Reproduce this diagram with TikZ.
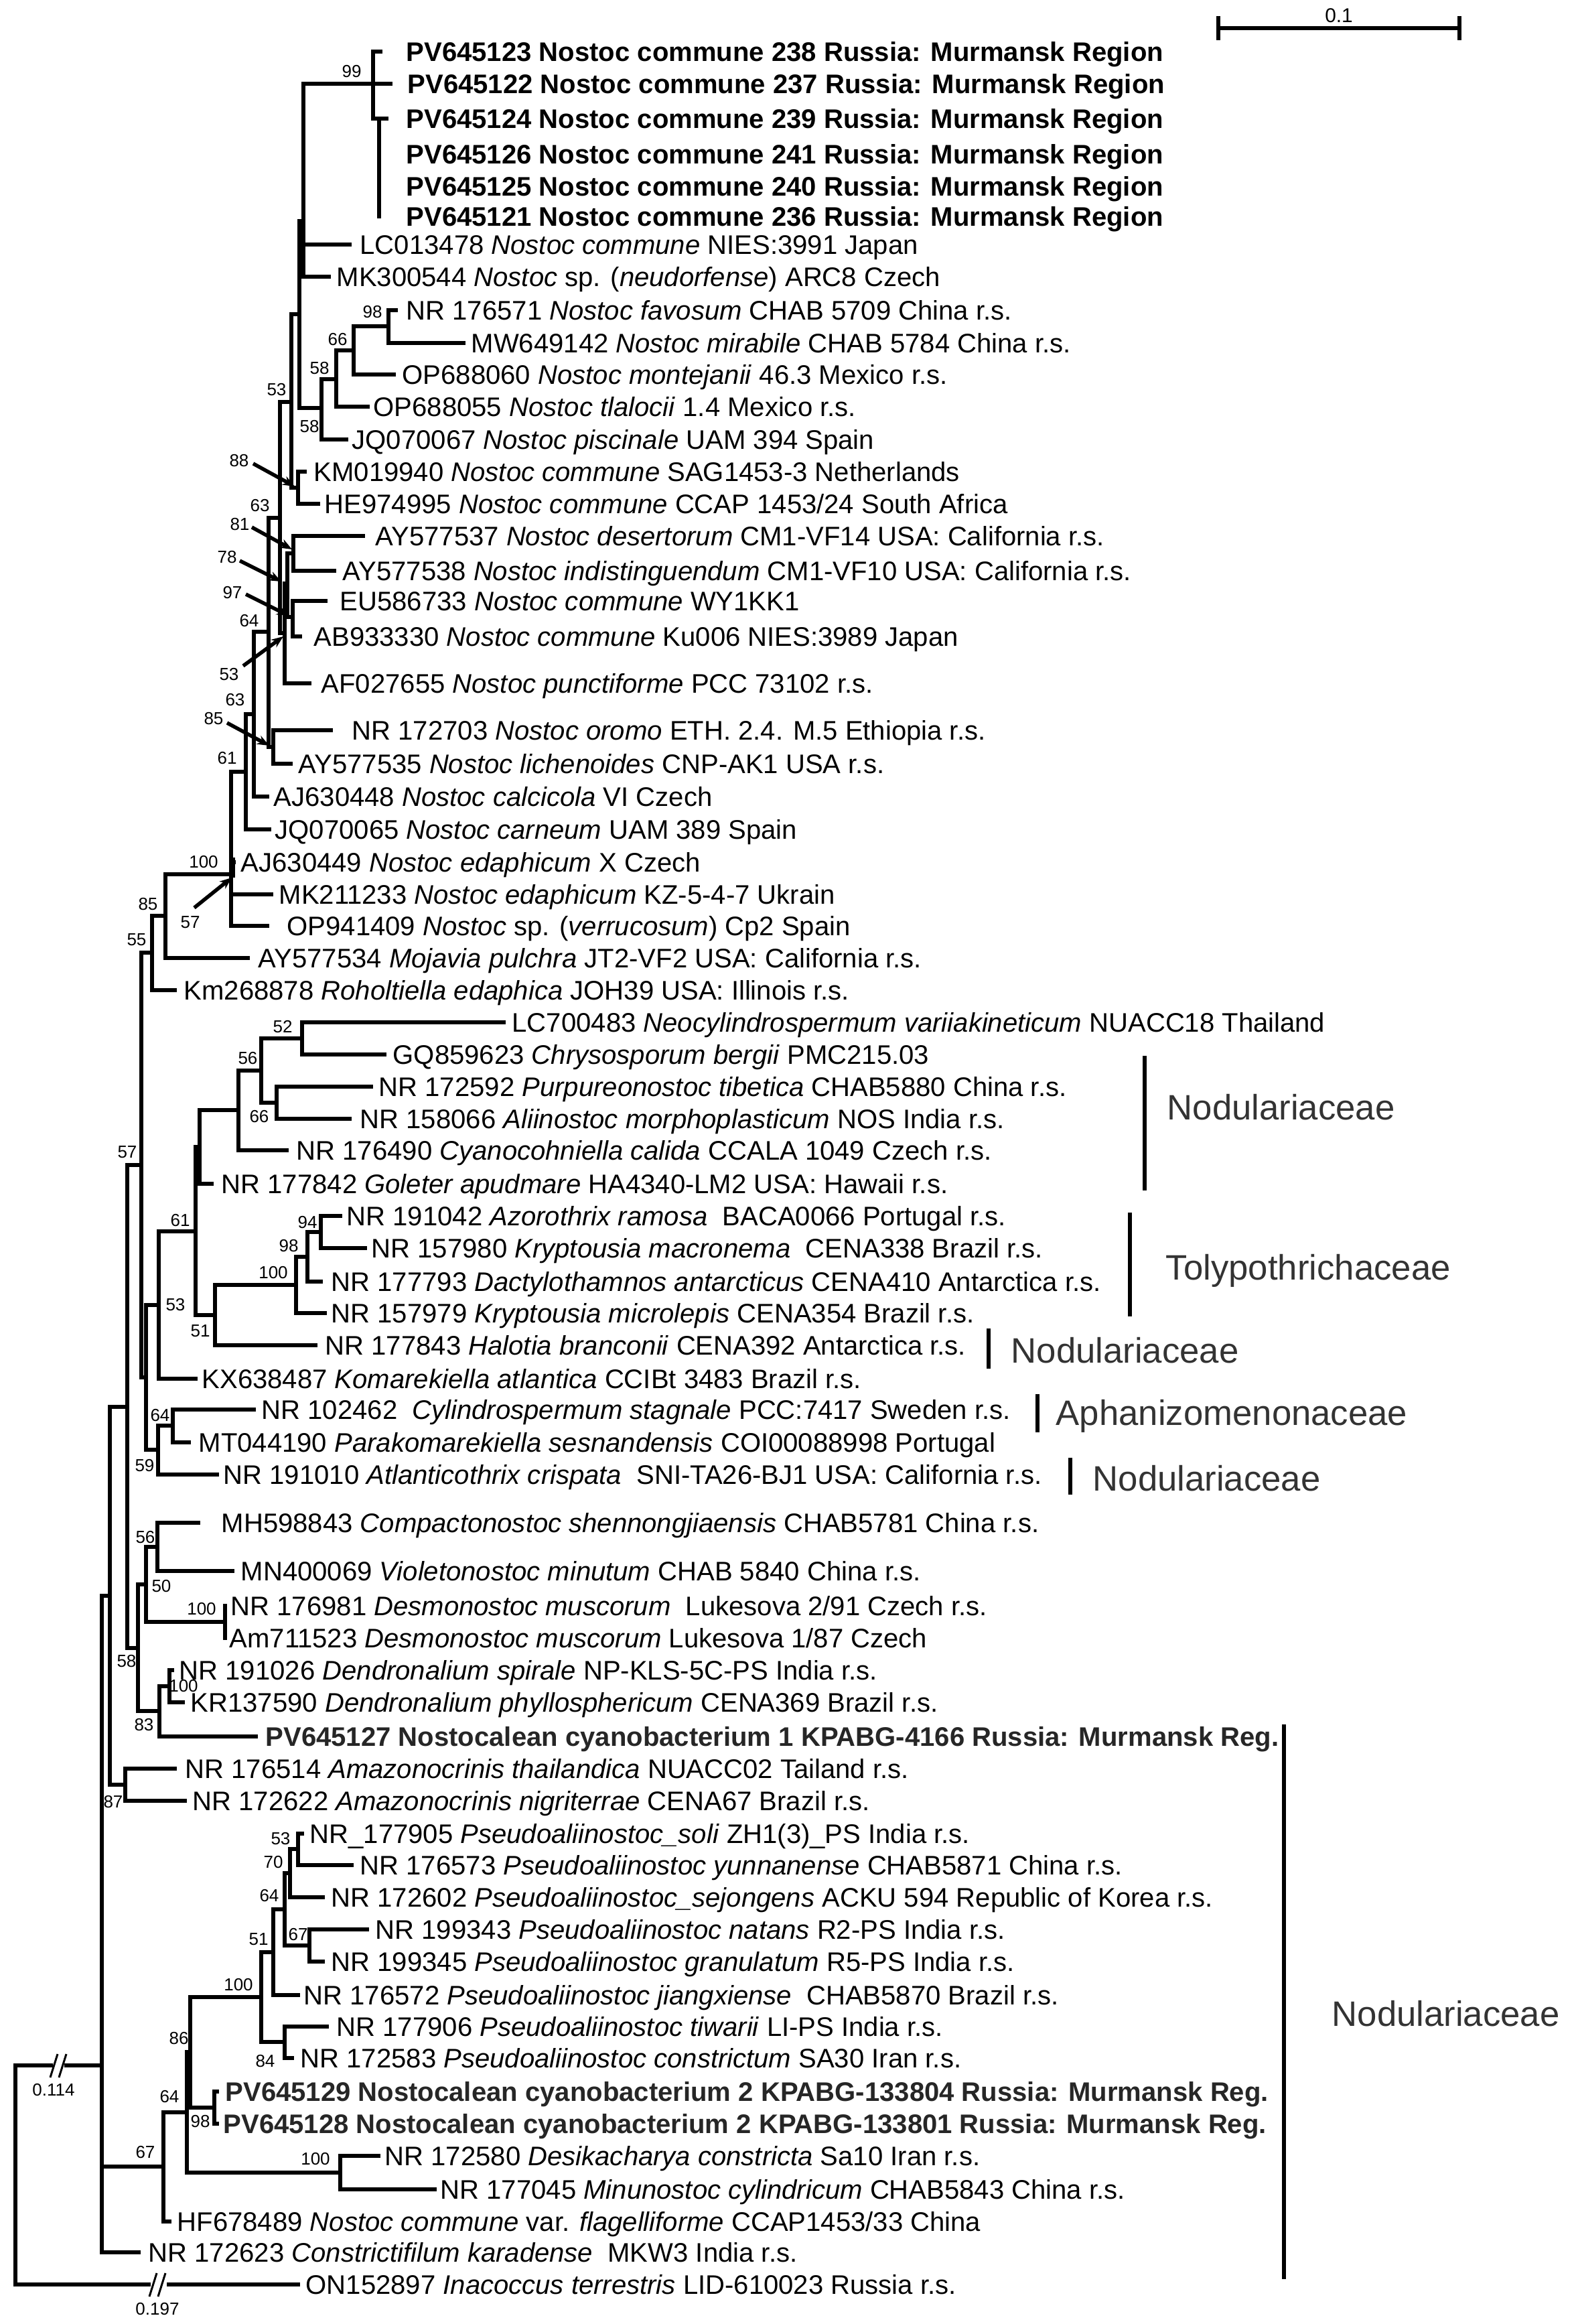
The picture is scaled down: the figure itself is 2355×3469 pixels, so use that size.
\documentclass[tikz,border=0pt]{standalone}
\usepackage{fontspec}
\setmainfont{Liberation Sans}
\usetikzlibrary{arrows.meta}
\newcommand\mkleaf[5]{\coordinate (#1) at (#3,#2); \node[lf] (#1t) at (#4,#2+14) {#5};}
\newcommand\mknode[3]{\coordinate (#1) at (#2,#3);}
\newcommand\ed[2]{\draw[br] (#1) |- (#2);}
\newcommand\bsl[4]{\node[bs] (#1) at (#2,#3) {#4};}
\newcommand\bsarr[8]{\node[bs] (#1) at (#3,#4) {#2}; \coordinate (#1s) at (#5,#6); \coordinate (#1e) at (#7,#8); \draw[arr] (#1s) -- (#1e);}
\begin{document}
\begin{tikzpicture}[x=0.1mm,y=-0.1mm,
 br/.style={line width=0.58mm, line cap=rect, line join=miter},
 lf/.style={anchor=base west, inner sep=0, font=\fontsize{11.4}{13}\selectfont},
 bs/.style={inner sep=0, font=\fontsize{7.4}{8}\selectfont},
 arr/.style={line width=0.55mm, -{Stealth[length=1.8mm,width=1.4mm]}},
 fam/.style={anchor=west, inner sep=0, font=\fontsize{15}{17}\selectfont, text=black!80},
 brk/.style={line width=0.65mm},
 sl/.style={line width=0.3mm}]
\fill[white] (0,0) rectangle (2355,3469);
\useasboundingbox (0,0) rectangle (2355,3469);
% ---------- leaves ----------
\mkleaf{l1}{77}{568}{606}{\textbf{PV645123 Nostoc commune 238 Russia: Murmansk Region}}
\mkleaf{l2}{125}{583}{608}{\textbf{PV645122 Nostoc commune 237 Russia: Murmansk Region}}
\mkleaf{l3}{177}{577}{606}{\textbf{PV645124 Nostoc commune 239 Russia: Murmansk Region}}
\mkleaf{l4}{230}{566}{606}{\textbf{PV645126 Nostoc commune 241 Russia: Murmansk Region}}
\mkleaf{l5}{278}{566}{606}{\textbf{PV645125 Nostoc commune 240 Russia: Murmansk Region}}
\mkleaf{l6}{323}{566}{606}{\textbf{PV645121 Nostoc commune 236 Russia: Murmansk Region}}
\mkleaf{l7}{365}{522}{537}{LC013478 \textit{Nostoc commune} NIES:3991 Japan}
\mkleaf{l8}{413}{491}{502}{MK300544 \textit{Nostoc} sp. (\textit{neudorfense}) ARC8 Czech}
\mkleaf{l9}{463}{591}{606}{NR 176571 \textit{Nostoc favosum} CHAB 5709 China r.s.}
\mkleaf{l10}{512}{692}{703}{MW649142 \textit{Nostoc mirabile} CHAB 5784 China r.s.}
\mkleaf{l11}{559}{588}{600}{OP688060 \textit{Nostoc montejanii} 46.3 Mexico r.s.}
\mkleaf{l12}{607}{549}{557}{OP688055 \textit{Nostoc tlalocii} 1.4 Mexico r.s.}
\mkleaf{l13}{656}{517}{525}{JQ070067 \textit{Nostoc piscinale} UAM 394 Spain}
\mkleaf{l14}{704}{455}{468}{KM019940 \textit{Nostoc commune} SAG1453-3 Netherlands}
\mkleaf{l15}{752}{475}{484}{HE974995 \textit{Nostoc commune} CCAP 1453/24 South Africa}
\mkleaf{l16}{800}{542}{560}{AY577537 \textit{Nostoc desertorum} CM1-VF14 USA: California r.s.}
\mkleaf{l17}{852}{499}{511}{AY577538 \textit{Nostoc indistinguendum} CM1-VF10 USA: California r.s.}
\mkleaf{l18}{897}{486}{507}{EU586733 \textit{Nostoc commune} WY1KK1}
\mkleaf{l19}{950}{448}{468}{AB933330 \textit{Nostoc commune} Ku006 NIES:3989 Japan}
\mkleaf{l20}{1020}{462}{479}{AF027655 \textit{Nostoc punctiforme} PCC 73102 r.s.}
\mkleaf{l21}{1090}{494}{525}{NR 172703 \textit{Nostoc oromo} ETH. 2.4. M.5 Ethiopia r.s.}
\mkleaf{l22}{1140}{434}{445}{AY577535 \textit{Nostoc lichenoides} CNP-AK1 USA r.s.}
\mkleaf{l23}{1189}{399}{408}{AJ630448 \textit{Nostoc calcicola} VI Czech}
\mkleaf{l24}{1238}{402}{410}{JQ070065 \textit{Nostoc carneum} UAM 389 Spain}
\mkleaf{l25}{1287}{349}{359}{AJ630449 \textit{Nostoc edaphicum} X Czech}
\mkleaf{l26}{1335}{405}{416}{MK211233 \textit{Nostoc edaphicum} KZ-5-4-7 Ukrain}
\mkleaf{l27}{1382}{399}{428}{OP941409 \textit{Nostoc} sp. (\textit{verrucosum}) Cp2 Spain}
\mkleaf{l28}{1430}{370}{385}{AY577534 \textit{Mojavia pulchra} JT2-VF2 USA: California r.s.}
\mkleaf{l29}{1478}{261}{274}{Km268878 \textit{Roholtiella edaphica} JOH39 USA: Illinois r.s.}
\mkleaf{l30}{1526}{752}{764}{LC700483 \textit{Neocylindrospermum variiakineticum} NUACC18 Thailand}
\mkleaf{l31}{1574}{574}{586}{GQ859623 \textit{Chrysosporum bergii} PMC215.03}
\mkleaf{l32}{1622}{554}{565}{NR 172592 \textit{Purpureonostoc tibetica} CHAB5880 China r.s.}
\mkleaf{l33}{1670}{522}{537}{NR 158066 \textit{Aliinostoc morphoplasticum} NOS India r.s.}
\mkleaf{l34}{1717}{428}{442}{NR 176490 \textit{Cyanocohniella calida} CCALA 1049 Czech r.s.}
\mkleaf{l35}{1767}{316}{330}{NR 177842 \textit{Goleter apudmare} HA4340-LM2 USA: Hawaii r.s.}
\mkleaf{l36}{1815}{508}{517}{NR 191042 \textit{Azorothrix ramosa}\ \ BACA0066 Portugal r.s.}
\mkleaf{l37}{1863}{545}{554}{NR 157980 \textit{Kryptousia macronema}\ \ CENA338 Brazil r.s.}
\mkleaf{l38}{1913}{479}{494}{NR 177793 \textit{Dactylothamnos antarcticus} CENA410 Antarctica r.s.}
\mkleaf{l39}{1960}{485}{494}{NR 157979 \textit{Kryptousia microlepis} CENA354 Brazil r.s.}
\mkleaf{l40}{2008}{471}{485}{NR 177843 \textit{Halotia branconii} CENA392 Antarctica r.s.}
\mkleaf{l41}{2058}{292}{301}{KX638487 \textit{Komarekiella atlantica} CCIBt 3483 Brazil r.s.}
\mkleaf{l42}{2104}{379}{390}{NR 102462\ \ \textit{Cylindrospermum stagnale} PCC:7417 Sweden r.s.}
\mkleaf{l43}{2153}{282}{296}{MT044190 \textit{Parakomarekiella sesnandensis} COI00088998 Portugal}
\mkleaf{l44}{2201}{324}{333}{NR 191010 \textit{Atlanticothrix crispata}\ \ SNI-TA26-BJ1 USA: California r.s.}
\mkleaf{l45}{2273}{296}{330}{MH598843 \textit{Compactonostoc shennongjiaensis} CHAB5781 China r.s.}
\mkleaf{l46}{2345}{347}{359}{MN400069 \textit{Violetonostoc minutum} CHAB 5840 China r.s.}
\mkleaf{l47}{2397}{336}{344}{NR 176981 \textit{Desmonostoc muscorum}\ \ Lukesova 2/91 Czech r.s.}
\mkleaf{l48}{2445}{336}{342}{Am711523 \textit{Desmonostoc muscorum} Lukesova 1/87 Czech}
\mkleaf{l49}{2493}{257}{267}{NR 191026 \textit{Dendronalium spirale} NP-KLS-5C-PS India r.s.}
\mkleaf{l50}{2541}{273}{284}{KR137590 \textit{Dendronalium phyllosphericum} CENA369 Brazil r.s.}
\mkleaf{l51}{2592}{382}{396}{\textbf{\color{black!85}PV645127 Nostocalean cyanobacterium 1 KPABG-4166 Russia: Murmansk Reg.}}
\mkleaf{l52}{2640}{261}{276}{NR 176514 \textit{Amazonocrinis thailandica} NUACC02 Tailand r.s.}
\mkleaf{l53}{2688}{276}{287}{NR 172622 \textit{Amazonocrinis nigriterrae} CENA67 Brazil r.s.}
\mkleaf{l54}{2737}{451}{462}{NR\_177905 \textit{Pseudoaliinostoc\_soli} ZH1(3)\_PS India r.s.}
\mkleaf{l55}{2784}{525}{537}{NR 176573 \textit{Pseudoaliinostoc yunnanense} CHAB5871 China r.s.}
\mkleaf{l56}{2832}{482}{494}{NR 172602 \textit{Pseudoaliinostoc\_sejongens} ACKU 594 Republic of Korea r.s.}
\mkleaf{l57}{2880}{548}{560}{NR 199343 \textit{Pseudoaliinostoc natans} R2-PS India r.s.}
\mkleaf{l58}{2928}{482}{494}{NR 199345 \textit{Pseudoaliinostoc granulatum} R5-PS India r.s.}
\mkleaf{l59}{2978}{445}{453}{NR 176572 \textit{Pseudoaliinostoc jiangxiense}\ \ CHAB5870 Brazil r.s.}
\mkleaf{l60}{3025}{488}{502}{NR 177906 \textit{Pseudoaliinostoc tiwarii} LI-PS India r.s.}
\mkleaf{l61}{3072}{436}{448}{NR 172583 \textit{Pseudoaliinostoc constrictum} SA30 Iran r.s.}
\mkleaf{l62}{3122}{324}{336}{\textbf{\color{black!85}PV645129 Nostocalean cyanobacterium 2 KPABG-133804 Russia: Murmansk Reg.}}
\mkleaf{l63}{3170}{324}{333}{\textbf{\color{black!85}PV645128 Nostocalean cyanobacterium 2 KPABG-133801 Russia: Murmansk Reg.}}
\mkleaf{l64}{3218}{565}{574}{NR 172580 \textit{Desikacharya constricta} Sa10 Iran r.s.}
\mkleaf{l65}{3268}{649}{657}{NR 177045 \textit{Minunostoc cylindricum} CHAB5843 China r.s.}
\mkleaf{l66}{3316}{253}{264}{HF678489 \textit{Nostoc commune} var. \textit{flagelliforme} CCAP1453/33 China}
\mkleaf{l67}{3362}{207}{221}{NR 172623 \textit{Constrictifilum karadense}\ \ MKW3 India r.s.}
\mkleaf{l68}{3410}{445}{456}{ON152897 \textit{Inacoccus terrestris} LID-610023 Russia r.s.}
% ---------- internal nodes ----------
\mknode{PVs}{566}{177} \mknode{PVg}{557}{125} \mknode{A}{453}{330}
\mknode{N98}{580}{487} \mknode{N66}{528}{523} \mknode{N58b}{502}{566} \mknode{N58a}{480}{609}
\mknode{C}{447}{469} \mknode{N88}{445}{728} \mknode{B}{435}{600}
\mknode{N81}{438}{826} \mknode{N97}{437}{921} \mknode{N78}{429}{871} \mknode{N53}{425}{945}
\mknode{E}{418}{773} \mknode{N85}{408}{1115} \mknode{N64b}{401}{943} \mknode{N63}{379}{1066}
\mknode{N61}{367}{1152} \mknode{F}{345}{1305} \mknode{L}{247}{1367} \mknode{K}{227}{1422}
\mknode{N52}{451}{1550} \mknode{N66b}{413}{1646} \mknode{N56b}{390}{1598} \mknode{N56}{356}{1657}
\mknode{N298}{298}{1712} \mknode{N94}{479}{1839} \mknode{N98t}{459}{1876} \mknode{N100t}{442}{1918}
\mknode{N51}{321}{1963} \mknode{N61c}{292}{1838} \mknode{N53c}{237}{1948}
\mknode{N64c}{258}{2128} \mknode{N59}{236}{2164} \mknode{I}{218}{2056} \mknode{J}{211}{1739}
\mknode{P}{235}{2309} \mknode{Q}{336}{2421} \mknode{O}{218}{2365} \mknode{Dn}{253}{2517}
\mknode{R}{238}{2554} \mknode{N}{206}{2460} \mknode{M}{190}{2100} \mknode{T}{187}{2664} \mknode{U}{164}{2382}
\mknode{AH}{445}{2760} \mknode{AG}{433}{2796} \mknode{AF}{462}{2904} \mknode{AE}{425}{2850}
\mknode{AD}{408}{2914} \mknode{AC}{425}{3048} \mknode{AB}{390}{2981} \mknode{Z}{320}{3146}
\mknode{Y}{284}{3063} \mknode{AA}{508}{3243} \mknode{W}{279}{3153} \mknode{V}{244}{3234}
\mknode{S}{152}{3083} \mknode{root}{23}{3246}
% ---------- edges ----------
\ed{PVs}{l3}\ed{PVs}{l4}\ed{PVs}{l5}\ed{PVs}{l6}
\ed{PVg}{l1}\ed{PVg}{l2}\ed{PVg}{PVs}
\ed{A}{PVg}\ed{A}{l7}\ed{A}{l8}
\ed{N98}{l9}\ed{N98}{l10}
\ed{N66}{N98}\ed{N66}{l11}
\ed{N58b}{N66}\ed{N58b}{l12}
\ed{N58a}{N58b}\ed{N58a}{l13}
\ed{C}{A}\ed{C}{N58a}
\ed{N88}{l14}\ed{N88}{l15}
\ed{B}{C}\ed{B}{N88}
\ed{N81}{l16}\ed{N81}{l17}
\ed{N97}{l18}\ed{N97}{l19}
\ed{N78}{N81}\ed{N78}{N97}
\ed{N53}{N78}\ed{N53}{l20}
\ed{E}{B}\ed{E}{N53}
\ed{N85}{l21}\ed{N85}{l22}
\ed{N64b}{E}\ed{N64b}{N85}
\ed{N63}{N64b}\ed{N63}{l23}
\ed{N61}{N63}\ed{N61}{l24}
\ed{F}{N61}\ed{F}{l25}\ed{F}{l26}\ed{F}{l27}
\ed{L}{F}\ed{L}{l28}
\ed{K}{L}\ed{K}{l29}
\ed{N52}{l30}\ed{N52}{l31}
\ed{N66b}{l32}\ed{N66b}{l33}
\ed{N56b}{N52}\ed{N56b}{N66b}
\ed{N56}{N56b}\ed{N56}{l34}
\ed{N298}{N56}\ed{N298}{l35}
\ed{N94}{l36}\ed{N94}{l37}
\ed{N98t}{N94}\ed{N98t}{l38}
\ed{N100t}{N98t}\ed{N100t}{l39}
\ed{N51}{N100t}\ed{N51}{l40}
\ed{N61c}{N298}\ed{N61c}{N51}
\ed{N53c}{N61c}\ed{N53c}{l41}
\ed{N64c}{l42}\ed{N64c}{l43}
\ed{N59}{N64c}\ed{N59}{l44}
\ed{I}{N53c}\ed{I}{N59}
\ed{J}{K}\ed{J}{I}
\ed{P}{l45}\ed{P}{l46}
\ed{Q}{l47}\ed{Q}{l48}
\ed{O}{P}\ed{O}{Q}
\ed{Dn}{l49}\ed{Dn}{l50}
\ed{R}{Dn}\ed{R}{l51}
\ed{N}{O}\ed{N}{R}
\ed{M}{J}\ed{M}{N}
\ed{T}{l52}\ed{T}{l53}
\ed{U}{M}\ed{U}{T}
\ed{AH}{l54}\ed{AH}{l55}
\ed{AG}{AH}\ed{AG}{l56}
\ed{AF}{l57}\ed{AF}{l58}
\ed{AE}{AG}\ed{AE}{AF}
\ed{AD}{AE}\ed{AD}{l59}
\ed{AC}{l60}\ed{AC}{l61}
\ed{AB}{AD}\ed{AB}{AC}
\ed{Z}{l62}\ed{Z}{l63}
\ed{Y}{AB}\ed{Y}{Z}
\ed{AA}{l64}\ed{AA}{l65}
\ed{W}{Y}\ed{W}{AA}
\ed{V}{W}\ed{V}{l66}
\ed{S}{U}\ed{S}{V}\ed{S}{l67}
% thick bit near AJ630449
\coordinate (Fk1) at (347,1280); \coordinate (Fk2) at (347,1310);
\draw[line width=0.85mm] (Fk1) -- (Fk2);
% root with broken branches
\coordinate (g1a) at (76,3083); \coordinate (g1b) at (99,3083);
\coordinate (g2a) at (222,3410); \coordinate (g2b) at (252,3410);
\draw[br] (root) |- (g1a); \draw[br] (g1b) -- (S);
\draw[br] (root) |- (g2a); \draw[br] (g2b) -- (l68);
\draw[sl] (75,3101) -- (86,3066); \draw[sl] (88,3101) -- (99,3066);
\draw[sl] (223,3428) -- (234,3393); \draw[sl] (236,3428) -- (247,3393);
\node[bs] (len1) at (80,3120) {0.114};
\node[bs] (len2) at (235,3447) {0.197};
% ---------- bootstrap labels ----------
\bsl{b1}{525}{107}{99}
\bsl{b2}{556}{466}{98}
\bsl{b3}{504}{507}{66}
\bsl{b4}{477}{550}{58}
\bsl{b5}{413}{582}{53}
\bsl{b6}{462}{637}{58}
\bsarr{b7}{88}{357}{688}{378}{692}{440}{726}
\bsl{b8}{388}{755}{63}
\bsarr{b9}{81}{358}{783}{376}{787}{436}{820}
\bsarr{b10}{78}{339}{832}{358}{837}{420}{868}
\bsarr{b11}{97}{347}{885}{367}{887}{431}{919}
\bsl{b12}{372}{927}{64}
\bsarr{b13}{53}{342}{1007}{363}{994}{423}{950}
\bsl{b14}{351}{1045}{63}
\bsarr{b15}{85}{319}{1073}{339}{1079}{402}{1113}
\bsl{b16}{339}{1132}{61}
\bsl{b17}{304}{1287}{100}
\bsarr{b18}{57}{284}{1377}{290}{1355}{346}{1310}
\bsl{b19}{221}{1350}{85}
\bsl{b20}{204}{1403}{55}
\bsl{b21}{422}{1533}{52}
\bsl{b22}{370}{1580}{56}
\bsl{b23}{387}{1667}{66}
\bsl{b24}{190}{1720}{57}
\bsl{b25}{269}{1822}{61}
\bsl{b26}{459}{1825}{94}
\bsl{b27}{431}{1860}{98}
\bsl{b28}{408}{1900}{100}
\bsl{b29}{262}{1948}{53}
\bsl{b30}{299}{1987}{51}
\bsl{b31}{239}{2113}{64}
\bsl{b32}{216}{2188}{59}
\bsl{b33}{217}{2295}{56}
\bsl{b34}{241}{2368}{50}
\bsl{b35}{301}{2402}{100}
\bsl{b36}{189}{2480}{58}
\bsl{b37}{274}{2517}{100}
\bsl{b38}{215}{2575}{83}
\bsl{b39}{169}{2690}{87}
\bsl{b40}{419}{2745}{53}
\bsl{b41}{408}{2780}{70}
\bsl{b42}{402}{2830}{64}
\bsl{b43}{445}{2888}{67}
\bsl{b44}{386}{2895}{51}
\bsl{b45}{356}{2963}{100}
\bsl{b46}{267}{3043}{86}
\bsl{b47}{396}{3077}{84}
\bsl{b48}{253}{3130}{64}
\bsl{b49}{299}{3167}{98}
\bsl{b50}{217}{3213}{67}
\bsl{b51}{471}{3223}{100}
% ---------- scale bar ----------
\coordinate (sb1) at (1819,42); \coordinate (sb2) at (2179,42);
\draw[br,line cap=butt] (sb1) -- (sb2);
\draw[br,line cap=butt] (1819,24) -- (1819,60);
\draw[br,line cap=butt] (2179,24) -- (2179,60);
\node[bs,anchor=south,font=\fontsize{8.5}{9}\selectfont] (sbl) at (1999,34) {0.1};
% ---------- family brackets ----------
\coordinate (f1a) at (1709,1576); \coordinate (f1b) at (1709,1777);
\draw[brk] (f1a) -- (f1b); \node[fam] (f1) at (1742,1653) {Nodulariaceae};
\coordinate (f2a) at (1687,1810); \coordinate (f2b) at (1687,1965);
\draw[brk] (f2a) -- (f2b); \node[fam] (f2) at (1740,1897) {Tolypothrichaceae};
\coordinate (f3a) at (1476,1983); \coordinate (f3b) at (1476,2043);
\draw[brk] (f3a) -- (f3b); \node[fam] (f3) at (1509,2016) {Nodulariaceae};
\coordinate (f4a) at (1549,2081); \coordinate (f4b) at (1549,2138);
\draw[brk] (f4a) -- (f4b); \node[fam] (f4) at (1576,2114) {Aphanizomenonaceae};
\coordinate (f5a) at (1598,2176); \coordinate (f5b) at (1598,2231);
\draw[brk] (f5a) -- (f5b); \node[fam] (f5) at (1631,2207) {Nodulariaceae};
\coordinate (f6a) at (1917,2574); \coordinate (f6b) at (1917,3402);
\draw[brk] (f6a) -- (f6b); \node[fam] (f6) at (1988,3006) {Nodulariaceae};
\end{tikzpicture}
\end{document}
